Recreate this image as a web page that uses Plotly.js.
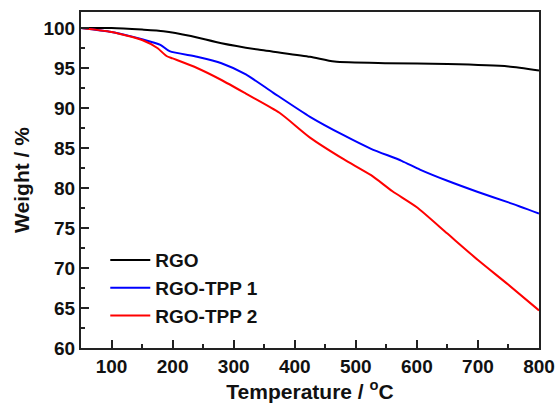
<!DOCTYPE html>
<html>
<head>
<meta charset="utf-8">
<script src="https://cdn.plot.ly/plotly-3.0.1.min.js"></script>
<style>html,body{margin:0;padding:0;background:#fff;}#chart{width:560px;height:403px;}</style>
</head>
<body>
<div id="chart"></div>
<script>
const rgoT = [50, 100, 150, 185, 230, 280, 340, 425, 465, 550, 650, 750, 800];
const rgoW = [100, 100, 99.8, 99.6, 99.0, 98.1, 97.3, 96.4, 95.8, 95.6, 95.5, 95.2, 94.7];

const tpp1T = [50, 100, 150, 180, 195, 240, 280, 320, 365, 425, 480, 525, 575, 605, 650, 700, 750, 800];
const tpp1W = [100, 99.5, 98.6, 97.9, 97.1, 96.4, 95.6, 94.2, 91.9, 88.9, 86.6, 84.9, 83.4, 82.3, 80.9, 79.5, 78.2, 76.8];

const tpp2T = [50, 100, 150, 175, 190, 200, 240, 280, 320, 375, 425, 480, 525, 560, 600, 650, 700, 750, 800];
const tpp2W = [100, 99.5, 98.5, 97.5, 96.5, 96.2, 95.0, 93.5, 91.8, 89.4, 86.3, 83.6, 81.6, 79.6, 77.6, 74.3, 71.0, 67.9, 64.7];

const names = ['RGO', 'RGO-TPP 1', 'RGO-TPP 2'];
const colors = ['#000000', '#0000ff', '#ff0000'];

const font = 'Liberation Sans, Arial, sans-serif';
const traces = [[rgoT, rgoW], [tpp1T, tpp1W], [tpp2T, tpp2W]].map((d, i) => ({
  x: d[0], y: d[1], type: 'scatter', mode: 'lines', name: names[i],
  line: {color: colors[i], width: 2, shape: 'spline', smoothing: 0.6}
}));

const axisCommon = {
  showline: true, linecolor: '#222', linewidth: 2, mirror: true,
  ticks: 'inside', ticklen: 8, tickwidth: 2, tickcolor: '#222',
  showgrid: false, zeroline: false,
  tickfont: {family: font, size: 19, color: '#111', weight: 'bold'}
};

const layout = {
  width: 560, height: 403,
  margin: {l: 81, r: 21, t: 12, b: 55},
  paper_bgcolor: '#fff', plot_bgcolor: '#fff',
  showlegend: true,
  legend: {x: 0.053, y: 0.318, xanchor: 'left', yanchor: 'top', bgcolor: 'rgba(0,0,0,0)',
    font: {family: font, size: 19, color: '#111', weight: 'bold'}, itemwidth: 40},
  xaxis: Object.assign({}, axisCommon, {
    range: [50, 800], tick0: 0, dtick: 100,
    minor: {dtick: 50, ticklen: 4, tickwidth: 2, tickcolor: '#222', ticks: 'inside'},
    title: {text: 'Temperature / <sup>o</sup>C', standoff: 6,
      font: {family: font, size: 21, color: '#111', weight: 'bold'}}
  }),
  yaxis: Object.assign({}, axisCommon, {
    range: [60, 102], tick0: 60, dtick: 5,
    minor: {dtick: 2.5, ticklen: 4, tickwidth: 2, tickcolor: '#222', ticks: 'inside'},
    title: {text: 'Weight / %', standoff: 8,
      font: {family: font, size: 21, color: '#111', weight: 'bold'}}
  })
};

Plotly.newPlot('chart', traces, layout, {displayModeBar: false, staticPlot: true});
</script>
</body>
</html>
